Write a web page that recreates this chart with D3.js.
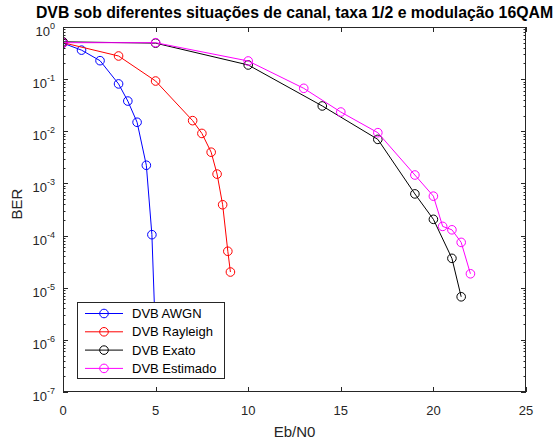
<!DOCTYPE html>
<html>
<head>
<meta charset="utf-8">
<script src="https://cdn.jsdelivr.net/npm/d3@7"></script>
<style>
  html, body { margin: 0; padding: 0; background: #fff; }
  svg { display: block; font-family: "Liberation Sans", Arial, Helvetica, sans-serif; }
</style>
</head>
<body>
<svg id="chart" width="556" height="442"></svg>
<script>
// Eb/N0 (dB) and bit error rate for each channel scenario
const awgnEbN0 = [0, 1, 2, 3, 3.5, 4, 4.5, 4.8, 5];
const awgnBER  = [0.49, 0.36, 0.226, 0.081, 0.038, 0.0149, 0.00223, 1.04e-4, 1e-6];

const rayleighEbN0 = [0, 3, 5, 7, 7.5, 8, 8.32, 8.62, 8.9, 9.04];
const rayleighBER  = [0.50, 0.278, 0.092, 0.016, 0.0091, 0.00397, 0.00151, 3.9e-4, 5.0e-5, 2.0e-5];

const exatoEbN0 = [0, 5, 10, 14, 17, 19, 20, 21, 21.5];
const exatoBER  = [0.52, 0.49, 0.187, 0.0306, 0.0070, 6.3e-4, 2.05e-4, 3.66e-5, 6.7e-6];

const estimadoEbN0 = [0, 5, 10, 13, 15, 17, 19, 20, 20.5, 21, 21.5, 22];
const estimadoBER  = [0.50, 0.50, 0.223, 0.0667, 0.0234, 0.0094, 0.00145, 5.7e-4, 1.5e-4, 1.29e-4, 7.4e-5, 1.85e-5];

const seriesNames  = ["DVB AWGN", "DVB Rayleigh", "DVB Exato", "DVB Estimado"];
const seriesColors = ["#0000ff", "#ff0000", "#000000", "#ff00ff"];

const xTicks = [0, 5, 10, 15, 20, 25];
const yTickExponents = [0, -1, -2, -3, -4, -5, -6, -7];

const titleText = "DVB sob diferentes situações de canal, taxa 1/2 e modulação 16QAM";
const xLabel = "Eb/N0";
const yLabel = "BER";

const series = [
  { name: seriesNames[0], color: seriesColors[0], x: awgnEbN0, y: awgnBER },
  { name: seriesNames[1], color: seriesColors[1], x: rayleighEbN0, y: rayleighBER },
  { name: seriesNames[2], color: seriesColors[2], x: exatoEbN0, y: exatoBER },
  { name: seriesNames[3], color: seriesColors[3], x: estimadoEbN0, y: estimadoBER }
];

const svg = d3.select("#chart");
const plot = { left: 63, right: 526, top: 27, bottom: 392 };
const axisColor = "#262626";

const x = d3.scaleLinear().domain([0, 25]).range([plot.left, plot.right]);
const y = d3.scaleLog().domain([1e-7, 1]).range([plot.bottom, plot.top]);

// Clip region for the data
svg.append("defs").append("clipPath").attr("id", "plotClip")
  .append("rect")
  .attr("x", plot.left).attr("y", plot.top)
  .attr("width", plot.right - plot.left).attr("height", plot.bottom - plot.top);

// Data lines and circle markers
const dataG = svg.append("g").attr("clip-path", "url(#plotClip)");
const line = d3.line().x(d => x(d[0])).y(d => y(d[1]));
series.forEach(s => {
  const pts = s.x.map((v, i) => [v, s.y[i]]);
  dataG.append("path")
    .attr("d", line(pts))
    .attr("fill", "none")
    .attr("stroke", s.color)
    .attr("stroke-width", 1);
  dataG.selectAll(null).data(pts).enter().append("circle")
    .attr("cx", d => x(d[0])).attr("cy", d => y(d[1]))
    .attr("r", 4.3)
    .attr("fill", "none")
    .attr("stroke", s.color)
    .attr("stroke-width", 1);
});

// Axes box with inward ticks on all four sides
const majorLen = 5, minorLen = 2.5;
const axG = svg.append("g").attr("stroke", axisColor).attr("stroke-width", 1).attr("fill", "none");
axG.append("rect")
  .attr("x", plot.left + 0.5).attr("y", plot.top + 0.5)
  .attr("width", plot.right - plot.left - 1).attr("height", plot.bottom - plot.top - 1);

xTicks.forEach(t => {
  const px = Math.round(x(t)) + 0.5;
  axG.append("line").attr("x1", px).attr("x2", px).attr("y1", plot.bottom).attr("y2", plot.bottom - majorLen);
  axG.append("line").attr("x1", px).attr("x2", px).attr("y1", plot.top).attr("y2", plot.top + majorLen);
});

const minorVals = [];
for (let e = -7; e < 0; e++) for (let m = 2; m <= 9; m++) minorVals.push(m * Math.pow(10, e));
minorVals.forEach(v => {
  const py = Math.round(y(v)) + 0.5;
  axG.append("line").attr("x1", plot.left).attr("x2", plot.left + minorLen).attr("y1", py).attr("y2", py);
  axG.append("line").attr("x1", plot.right).attr("x2", plot.right - minorLen).attr("y1", py).attr("y2", py);
});
yTickExponents.forEach(e => {
  const py = Math.round(y(Math.pow(10, e))) + 0.5;
  axG.append("line").attr("x1", plot.left).attr("x2", plot.left + majorLen).attr("y1", py).attr("y2", py);
  axG.append("line").attr("x1", plot.right).attr("x2", plot.right - majorLen).attr("y1", py).attr("y2", py);
});

// Tick labels
const tickFont = 13;
svg.append("g").selectAll("text").data(xTicks).enter().append("text")
  .attr("x", d => x(d)).attr("y", plot.bottom + 23)
  .attr("text-anchor", "middle")
  .attr("font-size", tickFont).attr("fill", axisColor)
  .text(d => d);

const yLab = svg.append("g").selectAll("text").data(yTickExponents).enter().append("text")
  .attr("x", plot.left - 8).attr("y", d => y(Math.pow(10, d)) + 9)
  .attr("text-anchor", "end")
  .attr("font-size", tickFont).attr("fill", axisColor);
yLab.append("tspan").text("10");
yLab.append("tspan").attr("dy", -7).attr("font-size", 9).text(d => d);

// Axis labels and title
svg.append("text")
  .attr("x", (plot.left + plot.right) / 2).attr("y", 437)
  .attr("text-anchor", "middle").attr("font-size", 15).attr("fill", axisColor)
  .text(xLabel);

svg.append("text")
  .attr("transform", `translate(22, 204) rotate(-90)`)
  .attr("text-anchor", "middle").attr("font-size", 15).attr("fill", axisColor)
  .text(yLabel);

svg.append("text")
  .attr("x", (plot.left + plot.right) / 2).attr("y", 18)
  .attr("text-anchor", "middle").attr("font-size", 15.8).attr("font-weight", "bold").attr("fill", "#000")
  .text(titleText);

// Legend
const leg = { x: 77, y: 302, w: 147, h: 76 };
const legG = svg.append("g");
legG.append("rect")
  .attr("x", leg.x + 0.5).attr("y", leg.y + 0.5).attr("width", leg.w).attr("height", leg.h)
  .attr("fill", "#fff").attr("stroke", axisColor).attr("stroke-width", 1);
series.forEach((s, i) => {
  const cy = leg.y + 11.5 + i * 18.3;
  legG.append("line")
    .attr("x1", leg.x + 8).attr("x2", leg.x + 46).attr("y1", cy).attr("y2", cy)
    .attr("stroke", s.color).attr("stroke-width", 1);
  legG.append("circle")
    .attr("cx", leg.x + 27).attr("cy", cy).attr("r", 4.3)
    .attr("fill", "none").attr("stroke", s.color).attr("stroke-width", 1);
  legG.append("text")
    .attr("x", leg.x + 55).attr("y", cy + 4.5)
    .attr("font-size", 13).attr("fill", "#000")
    .text(s.name);
});
</script>
</body>
</html>
